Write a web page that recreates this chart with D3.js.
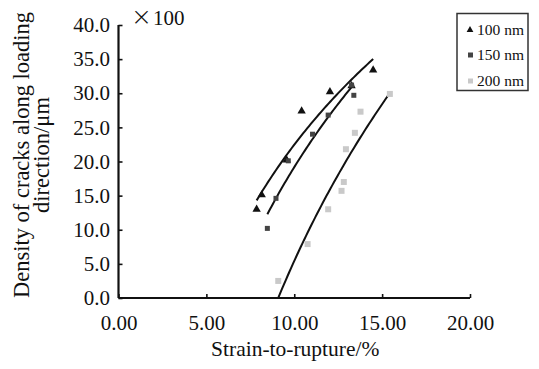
<!DOCTYPE html>
<html><head><meta charset="utf-8">
<script src="https://cdn.jsdelivr.net/npm/d3@7"></script>
<style>body{margin:0;background:#fff}svg{display:block}text{font-family:"Liberation Serif","Times New Roman",serif;fill:#111}</style>
</head><body><svg id="c" width="539" height="369"></svg>
<script>
const xTicks = [0, 5, 10, 15, 20];
const yTicks = [0, 5, 10, 15, 20, 25, 30, 35, 40];
const seriesNames = ["100 nm", "150 nm", "200 nm"];
const s100x = [7.86, 8.15, 9.57, 10.42, 12.03, 13.26, 14.49];
const s100y = [13.0, 15.1, 20.2, 27.4, 30.2, 31.1, 33.4];
const s150x = [8.47, 8.96, 9.66, 11.04, 11.93, 13.26, 13.39];
const s150y = [10.2, 14.6, 20.1, 24.0, 26.8, 31.2, 29.7];
const s200x = [9.09, 10.76, 11.93, 12.69, 12.82, 12.94, 13.45, 13.77, 15.44];
const s200y = [2.5, 7.9, 13.0, 15.7, 17.0, 21.8, 24.2, 27.3, 29.9];

const svg = d3.select("#c");
const x = d3.scaleLinear().domain([0, 20]).range([118.5, 470]);
const y = d3.scaleLinear().domain([0, 40]).range([298, 25]);

// axes
const xAxis = d3.axisBottom(x).tickValues(xTicks).tickSize(-4).tickPadding(17).tickFormat(d3.format(".2f"));
const gx = svg.append("g").attr("transform", "translate(0,298)").call(xAxis);
const yAxis = d3.axisLeft(y).tickValues(yTicks).tickSize(-4).tickPadding(8.5).tickFormat(d3.format(".1f"));
const gy = svg.append("g").attr("transform", "translate(118.5,0)").call(yAxis);
[gx, gy].forEach(g => {
  g.attr("font-family", null).attr("font-size", null);
  g.select(".domain").attr("stroke", "#111").attr("stroke-width", 2.2);
  g.selectAll(".tick line").attr("stroke", "#111").attr("stroke-width", 1.6);
  g.selectAll(".tick text").style("font-family", "Liberation Serif").style("font-size", "21px").attr("fill", "#111");
});
gx.select(".domain").attr("d", `M${x(0)},0H${x(20)}`);
gy.select(".domain").attr("d", `M0,${y(0)}V${y(40)}`);

const mult = svg.append("text").attr("x", 131).attr("y", 25);
mult.append("tspan").style("font-size", "25px").style("font-family", "DejaVu Sans").style("font-weight", "200").text("×");
mult.append("tspan").attr("dx", 1).style("font-size", "21px").text("100");

// titles
svg.append("text").attr("x", x(10) + 1).attr("y", 356).attr("text-anchor", "middle")
  .style("font-size", "21.5px").text("Strain-to-rupture/%");
const yt = svg.append("text").attr("transform", "translate(29,155) rotate(-90)").attr("text-anchor", "middle").style("font-size", "22.5px");
yt.append("tspan").attr("x", 0).attr("dy", 0).text("Density of cracks along loading");
yt.append("tspan").attr("x", 0).attr("dy", 20).text("direction/μm");

// log trend fits
function logFit(xs, ys) {
  const lx = xs.map(Math.log);
  const mx = d3.mean(lx), my = d3.mean(ys);
  let sxy = 0, sxx = 0;
  lx.forEach((v, i) => { sxy += (v - mx) * (ys[i] - my); sxx += (v - mx) * (v - mx); });
  const a = sxy / sxx, b = my - a * mx;
  return v => a * Math.log(v) + b;
}
const line = d3.line().x(d => x(d[0])).y(d => y(d[1]));
[[s100x, s100y], [s150x, s150y], [s200x, s200y]].forEach(([xs, ys]) => {
  const f = logFit(xs, ys);
  const [lo, hi] = d3.extent(xs);
  const pts = d3.range(0, 61).map(i => lo + (hi - lo) * i / 60).map(v => [v, Math.max(0, f(v))]);
  svg.append("path").attr("d", line(pts)).attr("fill", "none").attr("stroke", "#111").attr("stroke-width", 2);
});

// markers
const tri = d3.symbol().type(d3.symbolTriangle).size(30);
svg.append("g").selectAll("path").data(s100x.map((v, i) => [v, s100y[i]])).join("path")
  .attr("d", tri).attr("transform", d => `translate(${x(d[0])},${y(d[1])})`).attr("fill", "#111");
svg.append("g").selectAll("rect").data(s150x.map((v, i) => [v, s150y[i]])).join("rect")
  .attr("x", d => x(d[0]) - 2.5).attr("y", d => y(d[1]) - 2.5).attr("width", 5).attr("height", 5).attr("fill", "#444");
svg.append("g").selectAll("rect").data(s200x.map((v, i) => [v, s200y[i]])).join("rect")
  .attr("x", d => x(d[0]) - 3).attr("y", d => y(d[1]) - 3).attr("width", 6).attr("height", 6).attr("fill", "#c9c9c9");

// legend
const lg = svg.append("g");
lg.append("rect").attr("x", 457).attr("y", 13.5).attr("width", 71).attr("height", 77)
  .attr("fill", "#fff").attr("stroke", "#333").attr("stroke-width", 1.5);
const ly = [30, 55, 81];
seriesNames.forEach((n, i) => {
  if (i === 0) lg.append("path").attr("d", d3.symbol().type(d3.symbolTriangle).size(20)).attr("transform", `translate(470,${ly[i]})`).attr("fill", "#111");
  else lg.append("rect").attr("x", 468).attr("y", ly[i] - 2.5).attr("width", 5).attr("height", 5).attr("fill", i === 1 ? "#444" : "#c9c9c9");
  lg.append("text").attr("x", 477).attr("y", ly[i] + 5).style("font-size", "15.5px").text(n);
});
</script></body></html>
